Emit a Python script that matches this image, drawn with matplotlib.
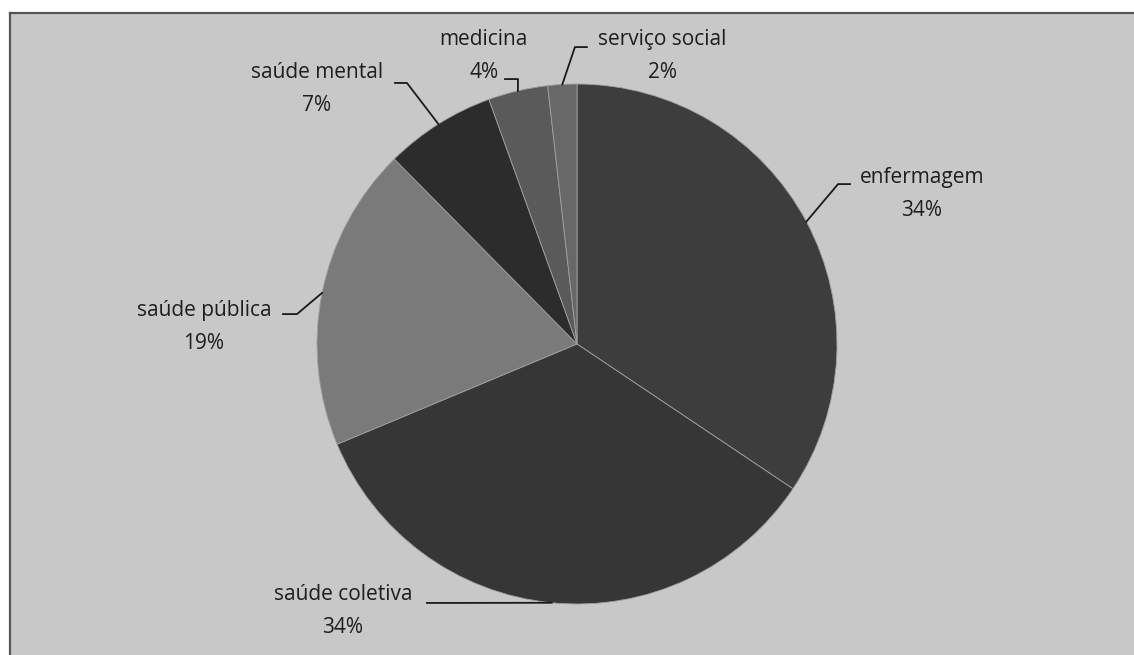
import numpy as np
import matplotlib.pyplot as plt
from matplotlib.patches import Rectangle
from matplotlib.lines import Line2D

# data (shares in %, labels show them rounded)
labels = ['enfermagem', 'saúde coletiva', 'saúde pública', 'saúde mental', 'medicina', 'serviço social']
values = [34.4, 34.3, 18.9, 6.9, 3.7, 1.8]
colors = ['#3d3d3d', '#363636', '#7a7a7a', '#2c2c2c', '#5a5a5a', '#686868']

# label layout (data coords, pie radius = 1): text centre, elbow and end of the leader line
text_pos = [(1.327, 0.577), (-0.90, -1.027), (-1.435, 0.065), (-1.0, 0.981), (-0.358, 1.108), (0.327, 1.108)]
elbow_pos = [(1.004, 0.615), (-0.577, -0.996), (-1.077, 0.115), (-0.654, 1.004), (-0.227, 1.019), (-0.008, 1.142)]
line_end = [(1.05, 0.615), (-0.577, -0.996), (-1.131, 0.115), (-0.70, 1.004), (-0.277, 1.019), (0.038, 1.142)]

W, H = 1134, 655
fig = plt.figure(figsize=(W / 100, H / 100), dpi=100, facecolor='#c8c8c8')

# white margin + dark frame, like the screenshot
fig.patches.append(Rectangle((0, 1 - 12 / H), 1, 12 / H, transform=fig.transFigure, color='white', zorder=0))
fig.patches.append(Rectangle((0, 0), 9 / W, 1, transform=fig.transFigure, color='white', zorder=0))
fig.lines.append(Line2D([10 / W, 1], [1 - 13 / H, 1 - 13 / H], transform=fig.transFigure, color='#555555', lw=1.6))
fig.lines.append(Line2D([10 / W, 10 / W], [0, 1 - 13 / H], transform=fig.transFigure, color='#555555', lw=1.6))

cx, cy, r = 577, 344, 260
ax = fig.add_axes([(cx - r) / W, (H - cy - r) / H, 2 * r / W, 2 * r / H])
ax.set_facecolor('none')

wedges, _ = ax.pie(values, colors=colors, startangle=90, counterclock=False, radius=1,
                   wedgeprops=dict(edgecolor='#a0a0a0', linewidth=0.6))
ax.set_xlim(-1, 1)
ax.set_ylim(-1, 1)
ax.set_aspect('equal')
ax.axis('off')

total = sum(values)
for i, (lab, v) in enumerate(zip(labels, values)):
    w = wedges[i]
    mid = np.deg2rad((w.theta1 + w.theta2) / 2)
    px, py = np.cos(mid), np.sin(mid)
    ex, ey = elbow_pos[i]
    lx, ly = line_end[i]
    ax.plot([px, ex, lx], [py, ey, ly], color='#1a1a1a', lw=1.3, clip_on=False)
    pct = '{:.0f}%'.format(100 * v / total)
    ax.text(text_pos[i][0], text_pos[i][1], lab + '\n' + pct, ha='center', va='center',
            fontsize=15, family='Open Sans', color='#1e1e1e', linespacing=1.75, clip_on=False)

fig.savefig('out.png', dpi=100, facecolor=fig.get_facecolor())
